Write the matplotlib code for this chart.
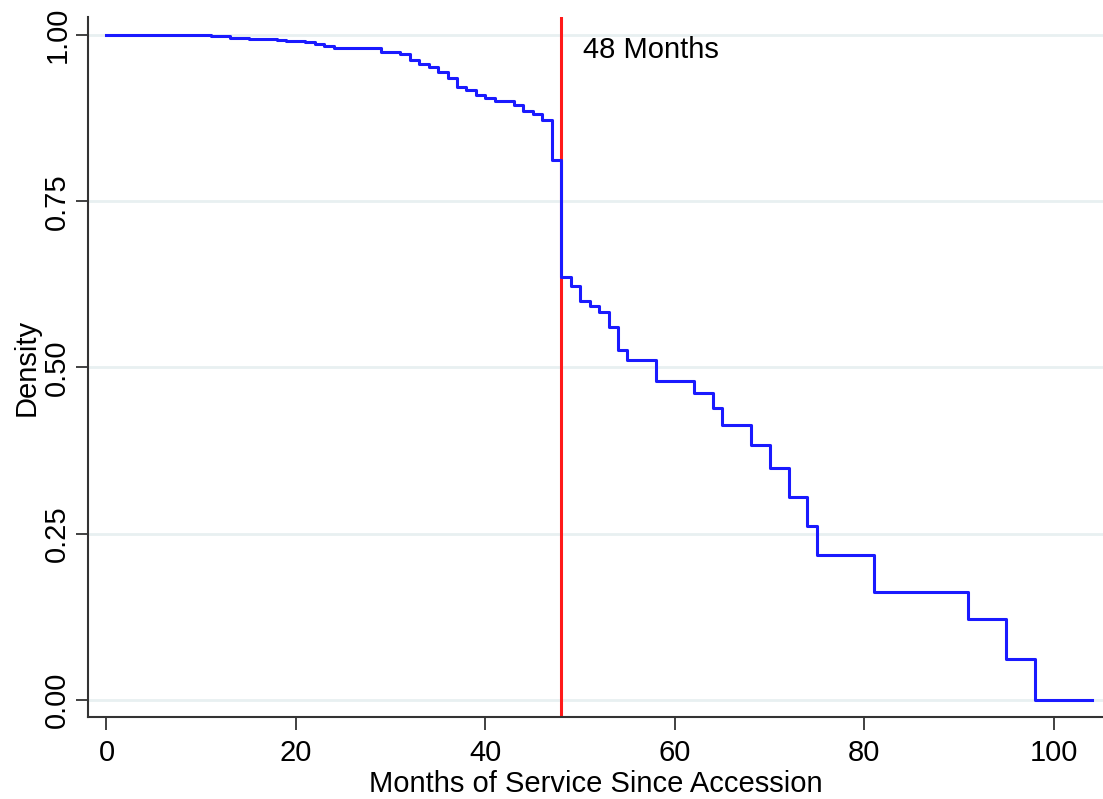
import matplotlib
matplotlib.use("Agg")
import matplotlib.pyplot as plt

# Kaplan-Meier style retention curve (step starts, survival share)
months = [0, 11, 13, 15, 18, 19, 21, 22, 23, 24, 29, 31, 32, 33, 34, 35, 36, 37,
          38, 39, 40, 41, 43, 44, 45, 46, 47, 48, 49, 50, 51, 52, 53, 54, 55, 58,
          62, 64, 65, 68, 70, 72, 74, 75, 81, 91, 95, 98, 104]
survival = [1.000, 0.998, 0.996, 0.994, 0.992, 0.991, 0.989, 0.986, 0.983, 0.980,
            0.975, 0.972, 0.963, 0.956, 0.952, 0.945, 0.935, 0.922, 0.917, 0.910,
            0.905, 0.900, 0.895, 0.886, 0.881, 0.872, 0.812, 0.636, 0.623, 0.600,
            0.592, 0.583, 0.561, 0.526, 0.512, 0.480, 0.462, 0.439, 0.414, 0.383,
            0.349, 0.306, 0.262, 0.218, 0.163, 0.122, 0.061, 0.000, 0.000]
cutoff = 48
xticks = [0, 20, 40, 60, 80, 100]
yticks = [0.00, 0.25, 0.50, 0.75, 1.00]

plt.rcParams["font.family"] = ["Liberation Sans", "DejaVu Sans"]

fig = plt.figure(figsize=(11.03, 7.99), dpi=100)
ax = fig.add_axes([0.0798, 0.1026, 0.9202, 0.8761])

# Horizontal grid
for yt in yticks:
    ax.axhline(yt, color="#e8f0f1", lw=2, zorder=0)

ax.step(months, survival, where="post", color="#1a1aff", lw=2.2, zorder=3)
ax.axvline(cutoff, color="#ff1a1a", lw=2.2, zorder=2)
ax.text(50.3, 0.977, "48 Months", fontsize=21, va="center", ha="left")

ax.set_xlim(-1.95, 105.2)
ax.set_ylim(-0.0256, 1.027)
ax.set_xticks(xticks)
ax.set_yticks(yticks)
ax.set_xticklabels([str(x) for x in xticks], fontsize=21)
ax.set_yticklabels(["%.2f" % y for y in yticks], fontsize=21, rotation=90, va="center")
ax.tick_params(axis="both", direction="out", length=9, width=1.3, color="#333333")
ax.tick_params(axis="x", pad=7)
ax.tick_params(axis="y", pad=3)

ax.set_xlabel("Months of Service Since Accession", fontsize=21, labelpad=2)
ax.set_ylabel("Density", fontsize=21, labelpad=2)

for side in ["top", "right"]:
    ax.spines[side].set_visible(False)
for side in ["left", "bottom"]:
    ax.spines[side].set_color("#333333")
    ax.spines[side].set_linewidth(1.5)

fig.savefig("out.png", dpi=100)
